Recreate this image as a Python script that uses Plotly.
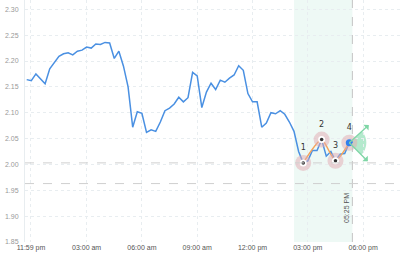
import numpy as np
import pandas as pd
import plotly.graph_objects as go

# ---- data ----
start_time = "2024-01-01 23:45"
step_minutes = 15
values = [2.164, 2.162, 2.175, 2.166, 2.156, 2.185, 2.196, 2.209, 2.214, 2.216,
          2.212, 2.219, 2.221, 2.227, 2.225, 2.233, 2.232, 2.236, 2.235, 2.205,
          2.219, 2.190, 2.150, 2.072, 2.102, 2.099, 2.062, 2.067, 2.064, 2.082,
          2.104, 2.109, 2.117, 2.130, 2.121, 2.129, 2.178, 2.171, 2.110, 2.140,
          2.157, 2.145, 2.163, 2.159, 2.167, 2.173, 2.191, 2.182, 2.137, 2.121,
          2.121, 2.072, 2.080, 2.100, 2.098, 2.104, 2.097, 2.082, 2.064, 2.025,
          2.003, 2.007, 2.027, 2.027, 2.048, 2.016, 2.025, 2.007, 2.020, 2.021,
          2.042]
times = pd.date_range(start_time, periods=len(values), freq=f"{step_minutes}min")

pattern_labels = ["1", "2", "3", "4"]
pattern_times = ["2024-01-02 14:45", "2024-01-02 15:45", "2024-01-02 16:30", "2024-01-02 17:15"]
pattern_values = [2.003, 2.048, 2.007, 2.042]

level_lines = [2.003, 1.963]
zone_start = "2024-01-02 14:15"
now_time = "2024-01-02 17:25"
now_label = "05:25 PM"

tick_times = ["2024-01-01 23:59", "2024-01-02 03:00", "2024-01-02 06:00", "2024-01-02 09:00",
              "2024-01-02 12:00", "2024-01-02 15:00", "2024-01-02 18:00"]
tick_labels = ["11:59 pm", "03:00 am", "06:00 am", "09:00 am", "12:00 pm", "03:00 pm", "06:00 pm"]
y_ticks = [1.85, 1.90, 1.95, 2.00, 2.05, 2.10, 2.15, 2.20, 2.25, 2.30]

x_range = ["2024-01-01 23:39:30", "2024-01-02 20:00"]
y_range = [1.85, 2.318]

FONT = "Liberation Sans, Arial, sans-serif"
BLUE = "#4a90e2"
ORANGE = "#f5a35a"
GREEN_FILL = "rgba(130,218,172,0.6)"
GREEN = "#7fd6a6"

fig = go.Figure()

# main price line
fig.add_trace(go.Scatter(x=times, y=values, mode="lines",
                         line=dict(color=BLUE, width=1.5), hoverinfo="skip"))

# pattern drawing line
fig.add_trace(go.Scatter(x=pattern_times, y=pattern_values, mode="lines",
                         line=dict(color=ORANGE, width=1.5, shape="spline", smoothing=0.6),
                         hoverinfo="skip"))

# pink halo circles + labels
fig.add_trace(go.Scatter(x=pattern_times, y=pattern_values, mode="markers+text",
                         marker=dict(size=16, color="rgba(226,170,178,0.5)", line=dict(width=0)),
                         text=pattern_labels, textposition="top center",
                         textfont=dict(family="DejaVu Sans, sans-serif", size=8, color="#333333"),
                         hoverinfo="skip"))
# inner white
fig.add_trace(go.Scatter(x=pattern_times[:3], y=pattern_values[:3], mode="markers",
                         marker=dict(size=7, color="white", line=dict(width=0)), hoverinfo="skip"))
# dark dots
fig.add_trace(go.Scatter(x=pattern_times[:3], y=pattern_values[:3], mode="markers",
                         marker=dict(size=3.5, color="#333333", line=dict(width=0)), hoverinfo="skip"))
# last point blue dot
fig.add_trace(go.Scatter(x=pattern_times[3:], y=pattern_values[3:], mode="markers",
                         marker=dict(size=7, color="#2f80ed", line=dict(width=0)), hoverinfo="skip"))

shapes = []
# shaded zone
shapes.append(dict(type="rect", xref="x", yref="paper", x0=zone_start, x1=now_time, y0=0, y1=1,
                   fillcolor="rgba(210,238,228,0.38)", line=dict(width=0), layer="below"))
# green fan sector anchored at last pattern point (pixel coords)
r = 17
angs = np.deg2rad(np.linspace(42, -45, 24))
pts = ["M 0,0"] + [f"L {r*np.cos(a):.2f},{r*np.sin(a):.2f}" for a in angs] + ["Z"]
shapes.append(dict(type="path", xref="x", yref="y", xsizemode="pixel", ysizemode="pixel",
                   xanchor=pattern_times[3], yanchor=pattern_values[3], path=" ".join(pts),
                   fillcolor=GREEN_FILL, line=dict(width=0), layer="below"))
# now line
shapes.append(dict(type="line", xref="x", yref="paper", x0=now_time, x1=now_time, y0=0, y1=1,
                   line=dict(color="#c4c4c4", width=1, dash="dash")))
# level lines
for lv in level_lines:
    shapes.append(dict(type="line", xref="paper", yref="y", x0=0, x1=1, y0=lv, y1=lv,
                       line=dict(color="#cfcfcf", width=1, dash="dash")))

annotations = []
for ax, ay in [(21, -19), (20, 20)]:
    annotations.append(dict(x=pattern_times[3], y=pattern_values[3], xref="x", yref="y",
                            text="", showarrow=True, ax=ax, ay=ay, arrowside="start",
                            arrowhead=2, arrowsize=1, arrowwidth=1.3, arrowcolor=GREEN,
                            standoff=0, startstandoff=0))
annotations.append(dict(x=now_time, y=0.07, xref="x", yref="paper", text=now_label,
                        showarrow=False, textangle=-90, xanchor="right", yanchor="bottom",
                        xshift=-1, font=dict(family=FONT, size=7, color="#555555")))

fig.update_layout(
    width=400, height=260, margin=dict(l=25, r=0, t=0, b=18),
    paper_bgcolor="white", plot_bgcolor="white", showlegend=False,
    shapes=shapes, annotations=annotations,
    font=dict(family=FONT, size=7, color="#666666"),
)
fig.update_xaxes(range=x_range, tickvals=tick_times, ticktext=tick_labels,
                 showgrid=True, gridcolor="#e8edf0", griddash="dot", gridwidth=1,
                 zeroline=False, showline=False, ticks="",
                 tickfont=dict(family=FONT, size=7, color="#555555"))
fig.update_yaxes(range=y_range, tickvals=y_ticks, tickformat=".2f",
                 showgrid=True, gridcolor="#e8edf0", griddash="dot", gridwidth=1,
                 zeroline=False, showline=True, linecolor="#e8edf0", ticks="",
                 ticklabelstandoff=4,
                 tickfont=dict(family=FONT, size=7, color="#999999"))

fig.write_html("out.html")
